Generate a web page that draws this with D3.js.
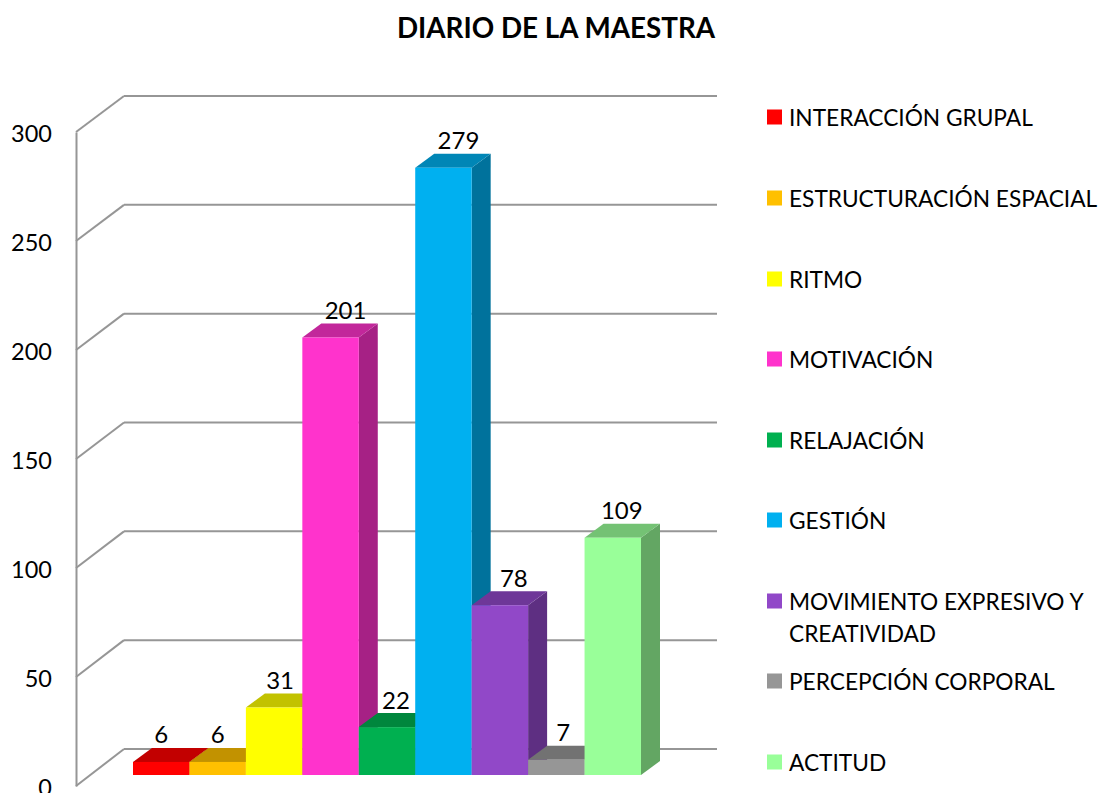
<!DOCTYPE html>
<html>
<head>
<meta charset="utf-8">
<script src="https://d3js.org/d3.v7.min.js"></script>
<style>
  html, body { margin: 0; padding: 0; background: #fff; overflow: hidden; }
  text { font-family: Lato, "Open Sans", sans-serif; fill: #000; }
</style>
</head>
<body>
<div id="chart"></div>
<script>
// Chart values.
const categories = ["INTERACCIÓN GRUPAL", "ESTRUCTURACIÓN ESPACIAL", "RITMO", "MOTIVACIÓN", "RELAJACIÓN", "GESTIÓN", "MOVIMIENTO EXPRESIVO Y CREATIVIDAD", "PERCEPCIÓN CORPORAL", "ACTITUD"];
const values = [6, 6, 31, 201, 22, 279, 78, 7, 109];
const colors = ["#ff0000", "#ffc000", "#ffff00", "#ff33cc", "#00b050", "#00b0f0", "#9148c8", "#969696", "#99ff99"];
const yTicks = [0, 50, 100, 150, 200, 250, 300];
const chartTitle = "DIARIO DE LA MAESTRA";

const width = 1099, height = 793;

const svg = d3.select("#chart").append("svg")
  .attr("width", width)
  .attr("height", height)
  .style("display", "block");

// Three scales for the fake 3D: front of the wall, back of the wall, front of the bars.
const yFront = d3.scaleLinear().domain([0, 300]).range([786, 132]);
const yBack = d3.scaleLinear().domain([0, 300]).range([749, 96]);
const yBar = d3.scaleLinear().domain([0, 300]).range([775, 122]);
const x = d3.scaleBand().domain(categories).range([133, 641]).padding(0);

const wallFront = 76, wallBack = 124, wallRight = 717;
const barDepthX = 19, barDepthY = 14;
const gridColor = "#969696";

// Title
svg.append("text")
  .attr("x", 556)
  .attr("y", 38)
  .attr("text-anchor", "middle")
  .attr("font-size", 27.8)
  .attr("font-weight", "bold")
  .text(chartTitle);

// Back gridlines and the diagonals going to the front.
const grid = svg.append("g")
  .attr("stroke", gridColor)
  .attr("stroke-width", 2)
  .attr("fill", "none");

grid.selectAll(".back")
  .data(yTicks)
  .enter().append("line")
  .attr("class", "back")
  .attr("x1", wallBack)
  .attr("x2", wallRight)
  .attr("y1", d => yBack(d))
  .attr("y2", d => yBack(d));

grid.selectAll(".diag")
  .data(yTicks)
  .enter().append("line")
  .attr("class", "diag")
  .attr("x1", wallFront)
  .attr("x2", wallBack)
  .attr("y1", d => yFront(d))
  .attr("y2", d => yBack(d));

// Left axis
const axis = svg.append("g")
  .attr("transform", `translate(${wallFront},0)`)
  .call(d3.axisLeft(yFront).tickValues(yTicks).tickSize(0).tickPadding(24));
axis.select(".domain")
  .attr("stroke", gridColor)
  .attr("stroke-width", 2);
axis.selectAll("text")
  .attr("font-size", 23.5)
  .attr("dy", "0.42em")
  .style("font-family", "Lato, 'Open Sans', sans-serif");

// Bars, left to right so each front covers the side of the one before.
const bars = svg.selectAll(".bar")
  .data(values)
  .enter().append("g")
  .attr("class", "bar");

const shade = (c, k) => {
  const r = d3.rgb(c);
  return d3.rgb(r.r * k, r.g * k, r.b * k).formatHex();
};

bars.append("polygon")
  .attr("fill", (d, i) => shade(colors[i], 0.65))
  .attr("points", (d, i) => {
    const x1 = x(categories[i]) + x.bandwidth();
    const top = yBar(d), base = yBar(0);
    return [[x1, top], [x1 + barDepthX, top - barDepthY], [x1 + barDepthX, base - barDepthY], [x1, base]].join(" ");
  });

bars.append("polygon")
  .attr("fill", (d, i) => shade(colors[i], 0.76))
  .attr("points", (d, i) => {
    const x0 = x(categories[i]), x1 = x0 + x.bandwidth();
    const top = yBar(d);
    return [[x0, top], [x1, top], [x1 + barDepthX, top - barDepthY], [x0 + barDepthX, top - barDepthY]].join(" ");
  });

bars.append("rect")
  .attr("x", (d, i) => x(categories[i]))
  .attr("y", d => yBar(d))
  .attr("width", x.bandwidth())
  .attr("height", d => yBar(0) - yBar(d))
  .attr("fill", (d, i) => colors[i]);

// Value labels. Their sideways nudge varies per bar in the original.
const labelNudge = [0, 0, 6, 15, 9, 15, 14, 7, 9];
svg.selectAll(".value")
  .data(values)
  .enter().append("text")
  .attr("class", "value")
  .attr("x", (d, i) => x(categories[i]) + x.bandwidth() / 2 + labelNudge[i])
  .attr("y", d => yBar(d) - barDepthY - 4.5)
  .attr("text-anchor", "middle")
  .attr("font-size", 24)
  .text(d => d);

// Legend
const legendY = [117, 198, 279, 359, 440, 520, 601, 681, 762];
const legend = svg.selectAll(".legend")
  .data(categories)
  .enter().append("g")
  .attr("class", "legend")
  .attr("transform", (d, i) => `translate(767,${legendY[i]})`);

legend.append("rect")
  .attr("y", -7.5)
  .attr("width", 15)
  .attr("height", 15)
  .attr("fill", (d, i) => colors[i]);

const legendText = legend.append("text")
  .attr("font-size", 22.7)
  .attr("y", 8.5);

// Only the long one breaks onto a second line.
legendText.each(function(d) {
  const t = d3.select(this);
  const parts = d.includes(" Y ") ? [d.slice(0, d.indexOf(" Y ") + 2), d.slice(d.indexOf(" Y ") + 3)] : [d];
  parts.forEach((p, j) => {
    t.append("tspan").attr("x", 22).attr("dy", j ? 32 : 0).text(p);
  });
});
</script>
</body>
</html>
